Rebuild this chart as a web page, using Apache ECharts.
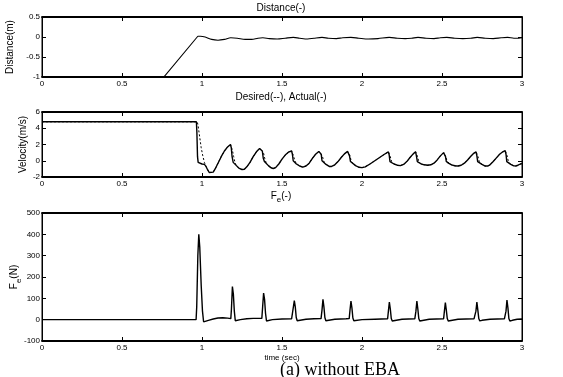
<!DOCTYPE html>
<html><head><meta charset="utf-8">
<script src="https://cdn.jsdelivr.net/npm/echarts@6/dist/echarts.min.js"></script>
<style>html,body{margin:0;padding:0;background:#fff}#c{width:563px;height:377px}</style>
</head><body><div id="c"></div>
<script>
const xTicks = [0, 3, 0.5];
const distTicks = [-1, 0.5, 0.5];
const velTicks = [-2, 6, 2];
const forceTicks = [-100, 500, 100];

const distance = [[0,-4.66],[0.97,0.0],[0.975,0.02],[0.99,0.02],[1.02,0],[1.06,-0.06],[1.1,-0.08],[1.14,-0.06],[1.18,-0.02],[1.22,-0.03],[1.27,-0.06],[1.31,-0.06],[1.35,-0.03],[1.38,-0.02],[1.42,-0.04],[1.47,-0.05],[1.52,-0.03],[1.57,-0.01],[1.61,-0.03],[1.66,-0.05],[1.7,-0.03],[1.75,-0.01],[1.79,-0.03],[1.84,-0.04],[1.88,-0.02],[1.93,-0.01],[1.98,-0.03],[2.04,-0.05],[2.1,-0.04],[2.17,-0.01],[2.22,-0.03],[2.27,-0.04],[2.31,-0.03],[2.35,-0.01],[2.4,-0.03],[2.45,-0.04],[2.49,-0.02],[2.53,-0.01],[2.58,-0.03],[2.63,-0.04],[2.68,-0.03],[2.72,-0.01],[2.77,-0.03],[2.82,-0.04],[2.87,-0.02],[2.91,-0.01],[2.95,-0.03],[2.98,-0.03],[3.0,-0.02]];

const velActual = [[0,4.8],[0.965,4.8],[0.968,3.5],[0.972,0.5],[0.976,-0.2],[0.985,-0.35],[1.0,-0.4],[1.015,-0.45],[1.025,-0.7],[1.035,-1.1],[1.045,-1.45],[1.057,-1.55],[1.07,-1.4],[1.085,-0.9],[1.1,-0.3],[1.12,0.5],[1.14,1.2],[1.16,1.7],[1.178,2.0],[1.183,1.6],[1.188,0.5],[1.195,-0.2],[1.205,-0.4],[1.215,-0.6],[1.23,-0.9],[1.25,-1.08],[1.265,-1.05],[1.28,-0.75],[1.3,-0.2],[1.32,0.5],[1.34,1.1],[1.36,1.5],[1.372,1.68],[1.377,1.2],[1.383,0.3],[1.39,-0.1],[1.4,-0.3],[1.415,-0.6],[1.43,-0.85],[1.445,-0.95],[1.46,-0.85],[1.48,-0.4],[1.5,0.2],[1.52,0.7],[1.54,1.05],[1.56,1.2],[1.565,0.8],[1.57,0.0],[1.578,-0.2],[1.59,-0.4],[1.61,-0.65],[1.63,-0.78],[1.65,-0.65],[1.67,-0.3],[1.69,0.3],[1.71,0.8],[1.73,1.15],[1.74,1.25],[1.745,0.8],[1.75,0.0],[1.758,-0.2],[1.775,-0.45],[1.795,-0.7],[1.81,-0.7],[1.83,-0.5],[1.85,-0.1],[1.87,0.4],[1.89,0.85],[1.91,1.15],[1.917,1.15],[1.922,0.6],[1.928,-0.1],[1.94,-0.3],[1.96,-0.6],[1.98,-0.8],[2.0,-0.85],[2.02,-0.75],[2.05,-0.4],[2.08,0.0],[2.11,0.4],[2.14,0.8],[2.165,1.1],[2.17,0.7],[2.175,-0.1],[2.185,-0.25],[2.2,-0.4],[2.22,-0.55],[2.24,-0.6],[2.26,-0.45],[2.28,-0.1],[2.3,0.4],[2.32,0.85],[2.335,1.1],[2.34,0.6],[2.346,-0.1],[2.355,-0.25],[2.37,-0.4],[2.39,-0.5],[2.41,-0.55],[2.43,-0.5],[2.45,-0.3],[2.47,0.1],[2.49,0.6],[2.51,1.0],[2.517,1.05],[2.522,0.5],[2.527,-0.1],[2.54,-0.3],[2.56,-0.5],[2.58,-0.62],[2.6,-0.65],[2.62,-0.55],[2.64,-0.3],[2.66,0.1],[2.68,0.55],[2.7,0.95],[2.713,1.1],[2.718,0.6],[2.723,-0.1],[2.735,-0.3],[2.75,-0.45],[2.77,-0.65],[2.785,-0.65],[2.8,-0.5],[2.82,-0.1],[2.84,0.35],[2.86,0.8],[2.88,1.1],[2.895,1.25],[2.9,0.8],[2.905,-0.1],[2.915,-0.3],[2.93,-0.45],[2.945,-0.6],[2.96,-0.65],[2.975,-0.55],[2.99,-0.4],[3.0,-0.35]];

const velDesired = [[0,4.8],[0.97,4.8],[0.975,4.4],[0.985,3.0],[0.995,1.6],[1.005,0.6],[1.015,-0.2],[1.025,-0.7],[1.035,-1.1],[1.045,-1.45],[1.057,-1.55],[1.07,-1.4],[1.085,-0.9],[1.1,-0.3],[1.12,0.5],[1.14,1.2],[1.16,1.7],[1.178,2.0],[1.182,2.0],[1.19,1.3],[1.198,0.5],[1.206,-0.2],[1.212,-0.5],[1.215,-0.6],[1.23,-0.9],[1.25,-1.08],[1.265,-1.05],[1.28,-0.75],[1.3,-0.2],[1.32,0.5],[1.34,1.1],[1.36,1.5],[1.372,1.68],[1.376,1.68],[1.384,1.0],[1.392,0.3],[1.4,-0.2],[1.41,-0.5],[1.415,-0.6],[1.43,-0.85],[1.445,-0.95],[1.46,-0.85],[1.48,-0.4],[1.5,0.2],[1.52,0.7],[1.54,1.05],[1.56,1.2],[1.564,1.2],[1.572,0.6],[1.58,0.0],[1.588,-0.3],[1.595,-0.45],[1.61,-0.65],[1.63,-0.78],[1.65,-0.65],[1.67,-0.3],[1.69,0.3],[1.71,0.8],[1.73,1.15],[1.74,1.25],[1.744,1.25],[1.752,0.6],[1.76,0.0],[1.767,-0.3],[1.775,-0.45],[1.795,-0.7],[1.81,-0.7],[1.83,-0.5],[1.85,-0.1],[1.87,0.4],[1.89,0.85],[1.91,1.15],[1.917,1.15],[1.925,0.6],[1.932,0.0],[1.94,-0.3],[1.96,-0.6],[1.98,-0.8],[2.0,-0.85],[2.02,-0.75],[2.05,-0.4],[2.08,0.0],[2.11,0.4],[2.14,0.8],[2.165,1.1],[2.169,1.1],[2.177,0.5],[2.185,-0.1],[2.192,-0.3],[2.2,-0.4],[2.22,-0.55],[2.24,-0.6],[2.26,-0.45],[2.28,-0.1],[2.3,0.4],[2.32,0.85],[2.335,1.1],[2.339,1.1],[2.347,0.5],[2.355,-0.1],[2.362,-0.3],[2.37,-0.4],[2.39,-0.5],[2.41,-0.55],[2.43,-0.5],[2.45,-0.3],[2.47,0.1],[2.49,0.6],[2.51,1.0],[2.517,1.05],[2.524,0.5],[2.532,-0.1],[2.54,-0.3],[2.56,-0.5],[2.58,-0.62],[2.6,-0.65],[2.62,-0.55],[2.64,-0.3],[2.66,0.1],[2.68,0.55],[2.7,0.95],[2.713,1.1],[2.717,1.1],[2.725,0.5],[2.733,-0.1],[2.74,-0.35],[2.75,-0.45],[2.77,-0.65],[2.785,-0.65],[2.8,-0.5],[2.82,-0.1],[2.84,0.35],[2.86,0.8],[2.88,1.1],[2.895,1.25],[2.899,1.25],[2.907,0.6],[2.915,-0.1],[2.922,-0.35],[2.93,-0.45],[2.945,-0.6],[2.96,-0.65],[2.975,-0.55],[2.99,-0.4],[3.0,-0.35]];

const force = [[0,0],[0.963,0],[0.967,60],[0.974,300],[0.98,400],[0.986,340],[0.995,160],[1.003,40],[1.01,-10],[1.02,-8],[1.04,-3],[1.07,3],[1.1,8],[1.13,9],[1.16,7],[1.18,5],[1.184,50],[1.19,155],[1.196,120],[1.202,40],[1.208,-5],[1.218,-6],[1.24,0],[1.28,4],[1.32,6],[1.36,6],[1.374,6],[1.379,60],[1.385,125],[1.391,95],[1.397,30],[1.403,-6],[1.413,-5],[1.44,0],[1.5,3],[1.56,4],[1.571,5],[1.577,89],[1.583,60],[1.589,10],[1.595,-5],[1.605,-3],[1.65,2],[1.7,4],[1.744,5],[1.75,45],[1.756,95],[1.762,60],[1.768,10],[1.774,-5],[1.784,-3],[1.83,2],[1.9,4],[1.92,5],[1.925,45],[1.931,87],[1.937,55],[1.943,8],[1.949,-5],[1.96,-3],[2.0,0],[2.08,2],[2.16,4],[2.165,40],[2.171,82],[2.177,50],[2.183,5],[2.189,-6],[2.2,-3],[2.25,2],[2.33,4],[2.337,40],[2.343,87],[2.349,50],[2.355,5],[2.361,-6],[2.372,-3],[2.42,2],[2.51,4],[2.515,40],[2.521,80],[2.527,45],[2.533,5],[2.539,-6],[2.55,-3],[2.6,2],[2.7,4],[2.712,40],[2.718,83],[2.724,45],[2.73,5],[2.736,-6],[2.75,-3],[2.8,2],[2.89,4],[2.9,40],[2.906,92],[2.912,55],[2.918,5],[2.924,-6],[2.94,-3],[2.97,2],[3.0,3]];

const FONT = 'Liberation Sans';
const grids = [
  {left: 42, right: 41, top: 17, height: 60},
  {left: 42, right: 41, top: 112, height: 65},
  {left: 42, right: 41, top: 213, height: 128}
];
const yT = [distTicks, velTicks, forceTicks];
const yNames = ['Distance(m)', 'Velocity(m/s)', '{a|F}{b|e}{a|(N)}'];
const yGaps = [27, 14, 21];

const lineBlack = {color: '#000', width: 1};
function xAx(g, pos) {
  const main = pos === 'bottom';
  return {
    gridIndex: g, type: 'value', position: pos, min: xTicks[0], max: xTicks[1], interval: xTicks[2],
    axisLine: {show: true, onZero: false, lineStyle: {color: '#000', width: 1.8}},
    axisTick: {show: true, inside: true, length: 4, lineStyle: {color: '#000'}},
    axisLabel: {show: main, fontSize: 8, color: '#000', margin: 3, fontFamily: FONT},
    splitLine: {show: false},
    name: (main && g === 2) ? 'time (sec)' : '', nameLocation: 'middle', nameGap: 13, nameMoveOverlap: false,
    nameTextStyle: {fontSize: 8, color: '#000', fontFamily: FONT}
  };
}
function yAx(g, pos) {
  const main = pos === 'left';
  const t = yT[g];
  return {
    gridIndex: g, type: 'value', position: pos, min: t[0], max: t[1], interval: t[2],
    axisLine: {show: true, onZero: false, lineStyle: lineBlack},
    axisTick: {show: true, inside: true, length: 4, lineStyle: {color: '#000'}},
    axisLabel: {show: main, fontSize: 8, color: '#000', margin: 2, fontFamily: FONT},
    splitLine: {show: false},
    name: main ? yNames[g] : '', nameLocation: 'middle', nameRotate: 90, nameGap: yGaps[g], nameMoveOverlap: false,
    nameTextStyle: {fontSize: 10, color: '#000', fontFamily: FONT,
      rich: {a: {fontSize: 10, color: '#000', fontFamily: FONT, lineHeight: 14},
             b: {fontSize: 8, color: '#000', fontFamily: FONT, lineHeight: 14, verticalAlign: 'bottom', padding: [0, 0, -2, 0]}}}
  };
}
const xAxes = [], yAxes = [];
for (let g = 0; g < 3; g++) {
  xAxes.push(xAx(g, 'bottom'), xAx(g, 'top'));
  yAxes.push(yAx(g, 'left'), yAx(g, 'right'));
}
const titleStyle = {fontSize: 10, fontWeight: 'normal', color: '#000', fontFamily: FONT};
const chart = echarts.init(document.getElementById('c'), null, {renderer: 'canvas'});
chart.setOption({
  animation: false,
  backgroundColor: '#fff',
  textStyle: {fontFamily: FONT},
  title: [
    {text: 'Distance(-)', left: 281, top: 3, textAlign: 'center', padding: 0, textStyle: titleStyle},
    {text: 'Desired(--), Actual(-)', left: 281, top: 92, textAlign: 'center', padding: 0, textStyle: titleStyle},
    {text: '{a|F}{b|e}{a|(-)}', left: 281, top: 190, textAlign: 'center', padding: 0,
      textStyle: Object.assign({}, titleStyle, {rich: {a: {fontSize: 10, color: '#000', fontFamily: FONT, lineHeight: 12},
        b: {fontSize: 8, color: '#000', fontFamily: FONT, lineHeight: 12, verticalAlign: 'bottom', padding: [0, 0, -2, 0]}}})},
    {text: '(a) without EBA', left: 340, top: 361, textAlign: 'center', padding: 0,
      textStyle: {fontSize: 18, fontWeight: 'normal', color: '#000', fontFamily: 'Liberation Serif'}}
  ],
  grid: grids.map(g => Object.assign({show: true, borderColor: '#000', borderWidth: 1, backgroundColor: 'transparent',
    containLabel: false, outerBoundsMode: 'none'}, g)),
  xAxis: xAxes,
  yAxis: yAxes,
  series: [
    {type: 'line', xAxisIndex: 0, yAxisIndex: 0, data: distance, symbol: 'none', smooth: 0.3, clip: true,
      lineStyle: {color: '#000', width: 1.1}},
    {type: 'line', xAxisIndex: 2, yAxisIndex: 2, data: velDesired, symbol: 'none', clip: true,
      lineStyle: {color: '#000', width: 1, type: [2, 2]}},
    {type: 'line', xAxisIndex: 2, yAxisIndex: 2, data: velActual, symbol: 'none', clip: true,
      lineStyle: {color: '#000', width: 1.4}},
    {type: 'line', xAxisIndex: 4, yAxisIndex: 4, data: force, symbol: 'none', clip: true,
      lineStyle: {color: '#000', width: 1.4}}
  ]
});
</script></body></html>
